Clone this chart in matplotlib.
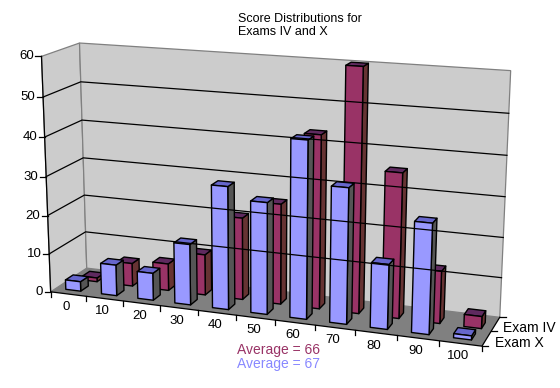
import numpy as np
import matplotlib
matplotlib.use("Agg")
import matplotlib.pyplot as plt
from matplotlib.patches import Polygon

categories = ["0", "10", "20", "30", "40", "50", "60", "70", "80", "90", "100"]
exam_x = [2.5, 8, 7, 15.5, 31, 28, 44, 33.5, 16, 27, 1]
exam_iv = [1, 6, 7, 10.5, 21, 25.5, 43.5, 60.5, 36, 13, 3]
y_ticks = [0, 10, 20, 30, 40, 50, 60]
series_names = ["Exam X", "Exam IV"]

# picture positions of the box corners: (category, depth, value) -> pixel
n = len(categories)
corners = [
    ((0, 0, 0), (50.7, 291.7)),
    ((n, 0, 0), (481.7, 346.7)),
    ((0, 1, 0), (86.7, 268.3)),
    ((n, 1, 0), (500.0, 316.7)),
    ((0, 0, 60), (41.7, 56.0)),
    ((0, 1, 60), (79.3, 43.3)),
    ((n, 1, 60), (510.7, 70.7)),
]


def fit_camera(pairs):
    rows = []
    for (a, b, c), (px, py) in pairs:
        rows.append([a, b, c, 1, 0, 0, 0, 0, -px * a, -px * b, -px * c, -px])
        rows.append([0, 0, 0, 0, a, b, c, 1, -py * a, -py * b, -py * c, -py])
    return np.linalg.svd(np.array(rows, dtype=float))[2][-1].reshape(3, 4)


cam = fit_camera(corners)


def pr(a, b, c):
    p = cam @ np.array([a, b, c, 1.0])
    return p[0] / p[2], p[1] / p[2]


def draw_bar(ax, cat, off, d0, d1, val, front, side, top):
    w0 = cat + off
    w1 = cat + off + 0.42
    faces = [
        ([(w1, d0, 0), (w1, d1, 0), (w1, d1, val), (w1, d0, val)], side),
        ([(w0, d0, val), (w1, d0, val), (w1, d1, val), (w0, d1, val)], top),
        ([(w0, d0, 0), (w1, d0, 0), (w1, d0, val), (w0, d0, val)], front),
    ]
    for pts, col in faces:
        ax.add_patch(Polygon([pr(*p) for p in pts], closed=True, facecolor=col,
                             edgecolor="black", lw=1.0, joinstyle="round"))


fig = plt.figure(figsize=(5.6, 3.88), dpi=100)
ax = fig.add_axes([0, 0, 1, 1])
ax.set_xlim(0, 560)
ax.set_ylim(388, 0)
ax.axis("off")
plt.rcParams["font.family"] = ["Liberation Sans", "DejaVu Sans"]

# walls and floor
ax.add_patch(Polygon([pr(0, 0, 0), pr(0, 1, 0), pr(0, 1, 60), pr(0, 0, 60)],
                     facecolor="#cccccc", edgecolor="#808080", lw=0.9))
ax.add_patch(Polygon([pr(0, 1, 0), pr(n, 1, 0), pr(n, 1, 60), pr(0, 1, 60)],
                     facecolor="#cccccc", edgecolor="#808080", lw=0.9))
ax.add_patch(Polygon([pr(0, 0, 0), pr(n, 0, 0), pr(n, 1, 0), pr(0, 1, 0)],
                     facecolor="#808080", edgecolor="none"))

for v in y_ticks[1:-1]:
    ax.plot(*zip(pr(0, 0, v), pr(0, 1, v), pr(n, 1, v)), color="black", lw=0.9)

# axes lines and ticks
ax.plot(*zip(pr(0, 0, 60), pr(0, 0, 0), pr(n, 0, 0), pr(n, 1, 0)), color="black", lw=0.9)
for v in y_ticks:
    x0, y0 = pr(0, 0, v)
    ax.plot([x0 - 6, x0], [y0, y0], color="black", lw=0.9)
    ax.text(x0 - 7.5, y0, str(v), ha="right", va="center", fontsize=9.5)
for i in range(n + 1):
    x0, y0 = pr(i, 0, 0)
    ax.plot([x0, x0], [y0, y0 + 5], color="black", lw=0.9)
for i, lab in enumerate(categories):
    x0, y0 = pr(i + 0.45, 0, 0)
    ax.text(x0, y0 + 13, lab, ha="center", va="center", fontsize=9.5)
for d in [0, 0.5, 1]:
    x0, y0 = pr(n, d, 0)
    ax.plot([x0, x0 + 6], [y0, y0], color="black", lw=0.9)
for name, d in zip(series_names, [0.25, 0.75]):
    x0, y0 = pr(n, d, 0)
    ax.text(x0 + 8, y0 + 4, name, ha="left", va="center", fontsize=10)

# back row first, then the front row over it
for i, v in enumerate(exam_iv):
    draw_bar(ax, i, 0.33, 0.55, 0.76, v, "#993366", "#663333", "#5f2a5f")
for i, v in enumerate(exam_x):
    draw_bar(ax, i, 0.27, 0.15, 0.36, v, "#9999ff", "#555555", "#6666cc")

ax.text(238, 19, "Score Distributions for", fontsize=9, ha="left", va="center")
ax.text(238, 32, "Exams IV and X", fontsize=9, ha="left", va="center")
ax.text(237, 350, "Average = 66", color="#993366", fontsize=10, ha="left", va="center")
ax.text(237, 364, "Average = 67", color="#8888ff", fontsize=10, ha="left", va="center")

fig.savefig("out.png", dpi=100)
